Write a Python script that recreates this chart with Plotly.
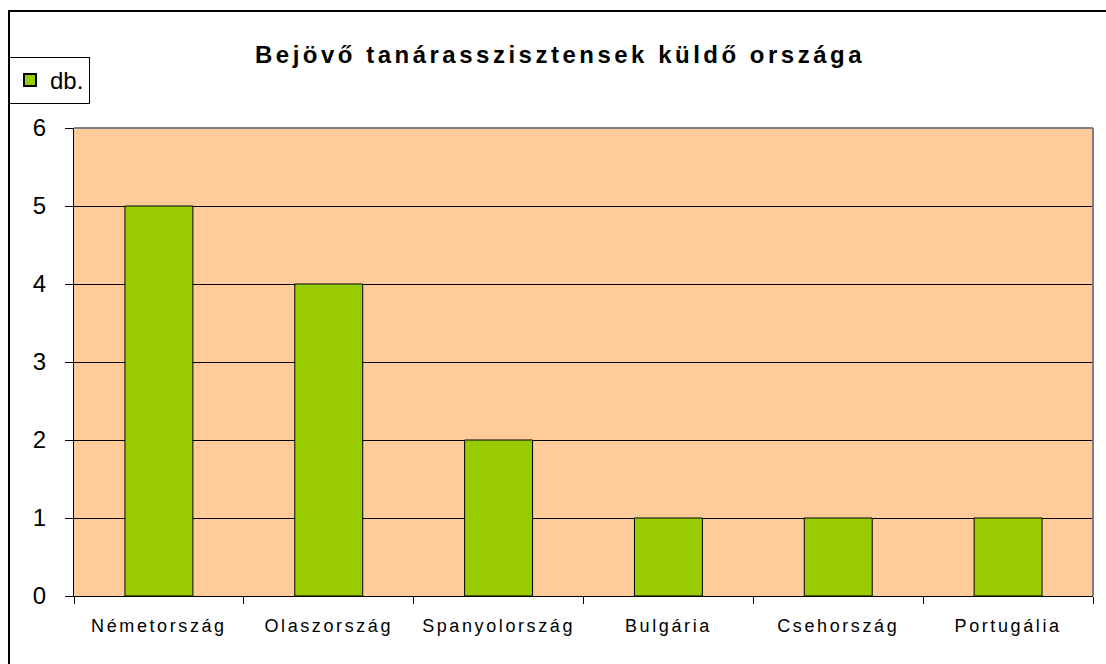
import plotly.graph_objects as go

categories = ["Németország", "Olaszország", "Spanyolország", "Bulgária", "Csehország", "Portugália"]
values = [5, 4, 2, 1, 1, 1]
series_name = "db."
title_text = "Bejövő tanárasszisztensek küldő országa"
y_ticks = [0, 1, 2, 3, 4, 5, 6]

W, H = 1106, 664
L, R, T, B = 74, 13, 128, 68
pw, ph = W - L - R, H - T - B

def px_x(x):
    return (x - L) / pw

def px_y(y):
    return 1 + (T - y) / ph

FONT = "Liberation Sans, Arial, sans-serif"

fig = go.Figure()
fig.add_trace(go.Bar(
    x=categories, y=values, name=series_name,
    marker=dict(color="#99CC00", line=dict(color="black", width=1)),
    showlegend=True,
))

fig.update_layout(
    width=W, height=H,
    margin=dict(l=L, r=R, t=T, b=B, autoexpand=False),
    paper_bgcolor="white",
    plot_bgcolor="#FFCC99",
    bargap=0.6,
    font=dict(family=FONT, color="black"),
    title=dict(text="<b>" + title_text + "</b>", x=560 / W, xanchor="center",
               y=1 - 55 / H, yanchor="middle", xref="container", yref="container",
               font=dict(size=24, family=FONT, color="black")),
    showlegend=True,
    legend=dict(x=px_x(9), y=px_y(57), xanchor="left", yanchor="top",
                bordercolor="black", borderwidth=1, bgcolor="white",
                font=dict(size=24, family=FONT), itemsizing="constant"),
    xaxis=dict(
        type="category", range=[-0.5, 5.5],
        showline=True, linecolor="black", linewidth=1,
        ticks="outside", tickson="boundaries", ticklen=7, tickcolor="black", tickwidth=1,
        showgrid=False, tickfont=dict(size=18, family=FONT),
        ticklabelstandoff=13,
    ),
    yaxis=dict(
        range=[0, 6], tickvals=y_ticks,
        showline=True, linecolor="black", linewidth=1,
        ticks="outside", ticklen=8, tickcolor="black", tickwidth=1,
        showgrid=True, gridcolor="black", gridwidth=1,
        zeroline=False, tickfont=dict(size=24, family=FONT),
        ticklabelstandoff=14,
    ),
    shapes=[
        dict(type="line", xref="paper", yref="paper", x0=0, x1=1, y0=1, y1=1,
             line=dict(color="#808080", width=2)),
        dict(type="line", xref="paper", yref="paper", x0=1, x1=1, y0=0, y1=1,
             line=dict(color="#808080", width=2)),
        dict(type="rect", xref="paper", yref="paper", x0=px_x(9), x1=1.2,
             y0=-0.4, y1=px_y(11), line=dict(color="black", width=2),
             fillcolor="rgba(0,0,0,0)", layer="above"),
    ],
)

post = """
document.body.style.margin = '0';
document.body.style.padding = '0';
var gd = document.getElementById('{plot_id}');
function ls(){
  gd.querySelectorAll('.gtitle').forEach(function(e){e.style.letterSpacing='3.5px';});
  gd.querySelectorAll('.xtick text').forEach(function(e){e.style.letterSpacing='2.6px';});
}
ls();
if (gd.on) { gd.on('plotly_afterplot', ls); }
"""

fig.write_html("out.html", post_script=post, config={"displayModeBar": False})
